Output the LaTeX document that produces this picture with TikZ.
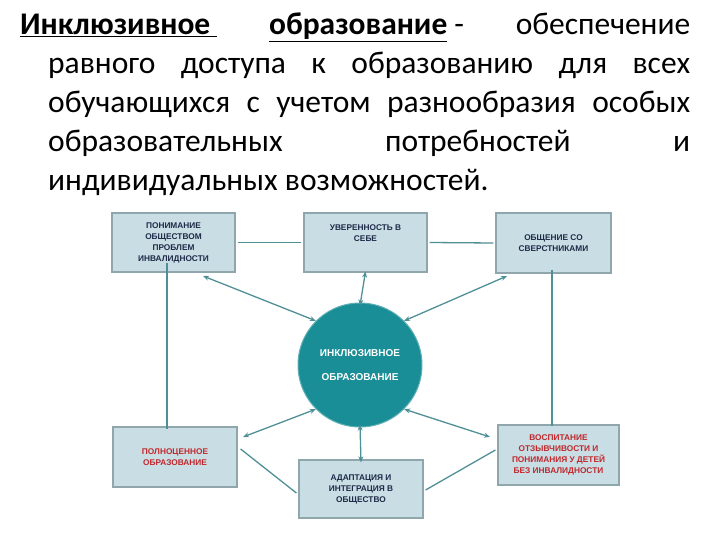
\documentclass[tikz,border=0pt]{standalone}
\usepackage{fontspec}
\setmainfont{Carlito}
\setsansfont{Liberation Sans}
\usetikzlibrary{arrows.meta}
\definecolor{boxfill}{HTML}{C9DEE4}
\definecolor{boxline}{HTML}{8FA6AD}
\definecolor{teal}{HTML}{1A8E96}
\definecolor{navy}{HTML}{1E2A48}
\definecolor{redt}{HTML}{C0282D}
\definecolor{conn}{HTML}{4F8F96}
\tikzset{
 box/.style={draw=boxline,line width=1.2pt,fill=boxfill,inner sep=0pt,align=center,
   font=\sffamily\bfseries\fontsize{8.3}{11}\selectfont,text=navy},
 con/.style={draw=conn,line width=1.3pt},
 arr/.style={con,{Stealth[length=6pt,width=5pt]}-{Stealth[length=6pt,width=5pt]}}
}
\begin{document}
\begin{tikzpicture}[x=1pt,y=-1pt]
\useasboundingbox (0,0) rectangle (720,540);
\node[anchor=north west,inner sep=0pt,text width=670pt,align=justify,font=\fontsize{31.5}{39}\selectfont] (title) at (20,13)
{\hangindent=28pt\hangafter=1\noindent\textbf{\underline{Инклюзивное\ }} \hfill \textbf{\underline{образование}} - \hfill обеспечение\linebreak
равного доступа к образованию для всех\linebreak
обучающихся с учетом разнообразия особых\linebreak
образовательных \hfill потребностей \hfill и\linebreak
индивидуальных возможностей.\par};
\node[box,minimum width=123pt,minimum height=59pt] (tl) at (173.5,242.5) {ПОНИМАНИЕ\\ОБЩЕСТВОМ\\ПРОБЛЕМ\\ИНВАЛИДНОСТИ};
\node[box,minimum width=123pt,minimum height=59pt] (tc) at (365.5,242.5) {УВЕРЕННОСТЬ В\\СЕБЕ\\[8pt]};
\node[box,minimum width=115pt,minimum height=60pt] (tr) at (553.5,243) {ОБЩЕНИЕ СО\\СВЕРСТНИКАМИ};
\node[box,minimum width=124pt,minimum height=60pt,text=redt] (bl) at (175,457) {ПОЛНОЦЕННОЕ\\ОБРАЗОВАНИЕ};
\node[box,minimum width=124pt,minimum height=58pt] (bc) at (361,489) {АДАПТАЦИЯ И\\ИНТЕГРАЦИЯ В\\ОБЩЕСТВО};
\node[box,minimum width=121pt,minimum height=60pt,text=redt] (br) at (558.5,455) {ВОСПИТАНИЕ\\ОТЗЫВЧИВОСТИ И\\ПОНИМАНИЯ У ДЕТЕЙ\\БЕЗ ИНВАЛИДНОСТИ};
\node[circle,fill=teal,draw=teal!70!white,line width=1pt,minimum size=124pt,inner sep=0pt,text=white,align=center,
  font=\sffamily\bfseries\fontsize{10}{24}\selectfont] (c) at (360,365) {ИНКЛЮЗИВНОЕ\\ОБРАЗОВАНИЕ};
% plain connectors
\draw[con] ([xshift=2pt]tl.east) -- ([xshift=-2pt]tc.west);
\draw[con] ([xshift=2pt]tc.east) -- ([xshift=-2pt]tr.west);
\draw[con] ([yshift=10pt]tl.south -| 167,0) -- ([yshift=-3pt]bl.north -| 167,0);
\draw[con] ([yshift=4pt]tr.south -| 552,0) -- ([yshift=-2pt]br.north -| 552,0);
\draw[con] ([shift={(3pt,8pt)}]bl.east) -- ([shift={(-2pt,-4pt)}]bc.west);
\draw[con] ([shift={(2pt,-1pt)}]bc.east) -- ([shift={(-2pt,5pt)}]br.west);
% arrows
\coordinate (p1) at (203,276); \coordinate (p2) at (507,276);
\coordinate (p3) at (243,437); \coordinate (p4) at (490,437);
\draw[arr] (p1) -- (c.135);
\draw[arr] ([yshift=1pt]tc.south) -- ([yshift=-3pt]c.north);
\draw[arr] (p2) -- (c.45);
\draw[arr] (p3) -- (c.225);
\draw[arr] ([yshift=3pt]c.south) -- ([yshift=-3pt]bc.north);
\draw[arr] (p4) -- (c.315);
\end{tikzpicture}
\end{document}
